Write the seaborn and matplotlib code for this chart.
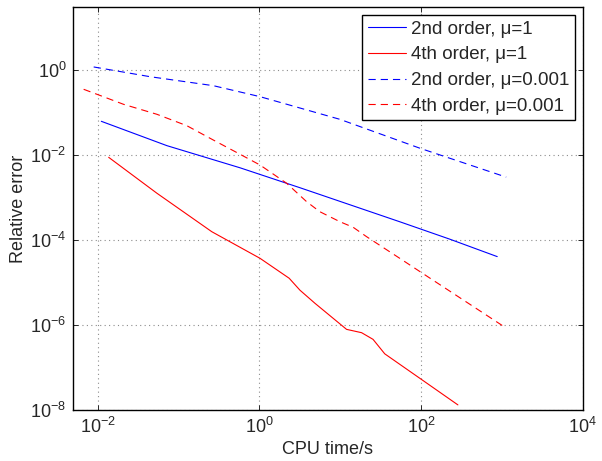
import matplotlib
matplotlib.use("Agg")
import matplotlib.pyplot as plt
import pandas as pd
import seaborn as sns

# values (log-log)
cpu_2nd_mu1 = [0.0111, 0.0719, 0.578, 3.18, 54.6, 226, 877]
err_2nd_mu1 = [0.0621, 0.0166, 5.0e-3, 1.70e-3, 2.69e-4, 1.05e-4, 4.07e-5]

cpu_4th_mu1 = [0.01368, 0.0541, 0.258, 1.02, 2.34, 3.18, 4.88, 12.0, 18.4, 25.5, 35.6, 96.4, 286]
err_4th_mu1 = [8.83e-3, 1.26e-3, 1.57e-4, 3.71e-5, 1.26e-5, 6.6e-6, 3.24e-6, 7.9e-7,
               6.6e-7, 4.6e-7, 2.1e-7, 5.6e-8, 1.32e-8]

cpu_2nd_mu001 = [0.00893, 0.0448, 0.270, 1.02, 4.65, 9.91, 96.4, 1132]
err_2nd_mu001 = [1.18, 0.695, 0.428, 0.236, 0.104, 0.0692, 0.0145, 3.02e-3]

cpu_4th_mu001 = [0.00671, 0.0209, 0.0541, 0.127, 0.270, 0.578, 1.02, 2.18, 3.85, 5.61,
                 9.91, 14.5, 21.2, 54.6, 100, 1028]
err_4th_mu001 = [0.352, 0.156, 0.0908, 0.0489, 0.0225, 0.0104, 5.82e-3, 2.16e-3, 7.96e-4,
                 4.63e-4, 2.70e-4, 1.99e-4, 1.20e-4, 3.71e-5, 1.74e-5, 9.55e-7]

labels = ["2nd order, \u03bc=1", "4th order, \u03bc=1",
          "2nd order, \u03bc=0.001", "4th order, \u03bc=0.001"]
xticks = [1e-2, 1e0, 1e2, 1e4]
yticks = [1e-8, 1e-6, 1e-4, 1e-2, 1e0]

series = [(cpu_2nd_mu1, err_2nd_mu1), (cpu_4th_mu1, err_4th_mu1),
          (cpu_2nd_mu001, err_2nd_mu001), (cpu_4th_mu001, err_4th_mu001)]
frames = []
for lab, (xs, ys) in zip(labels, series):
    frames.append(pd.DataFrame({"cpu": xs, "err": ys, "label": lab}))
df = pd.concat(frames, ignore_index=True)

sns.set_style("ticks")
plt.rcParams["font.family"] = ["Liberation Sans", "DejaVu Sans"]
plt.rcParams["mathtext.fontset"] = "custom"
plt.rcParams["mathtext.rm"] = "Liberation Sans"
plt.rcParams["mathtext.it"] = "Liberation Sans:italic"
plt.rcParams["mathtext.bf"] = "Liberation Sans:bold"

fig = plt.figure(figsize=(6.02, 4.61), dpi=100)
ax = fig.add_axes([0.1218, 0.1106, 0.8461, 0.8735])

colors = ["#0000ff", "#ff0000", "#0000ff", "#ff0000"]
styles = ["-", "-", (0, (6.5, 4.5)), (0, (6.5, 4.5))]
for lab, c, ls in zip(labels, colors, styles):
    sub = df[df["label"] == lab]
    sns.lineplot(data=sub, x="cpu", y="err", ax=ax, color=c, linestyle=ls,
                 linewidth=0.8, label=lab, estimator=None, sort=False)

ax.set_xscale("log")
ax.set_yscale("log")
ax.set_xlim(0.005, 1e4)
ax.set_ylim(1e-8, 10 ** 1.475)
ax.set_xticks(xticks)
ax.set_yticks(yticks)
ax.minorticks_off()
ax.grid(True, which="major", linestyle=(0, (1, 3)), color="0.55", linewidth=0.8)

ax.tick_params(direction="in", top=True, right=True, length=3.6, width=0.7,
               labelsize=13, pad=5)
for s in ax.spines.values():
    s.set_visible(True)
    s.set_linewidth(1.0)
    s.set_color("black")

ax.set_xlabel("CPU time/s", fontsize=13, labelpad=3)
ax.set_ylabel("Relative error", fontsize=13, labelpad=2)

leg = ax.legend(loc="upper right", fontsize=13.5, frameon=True, fancybox=False,
                edgecolor="black", framealpha=1, borderaxespad=0.4,
                handlelength=2.0, handletextpad=0.3, labelspacing=0.46,
                borderpad=0.3)
leg.get_frame().set_linewidth(1.0)

fig.savefig("out.png", dpi=100)
